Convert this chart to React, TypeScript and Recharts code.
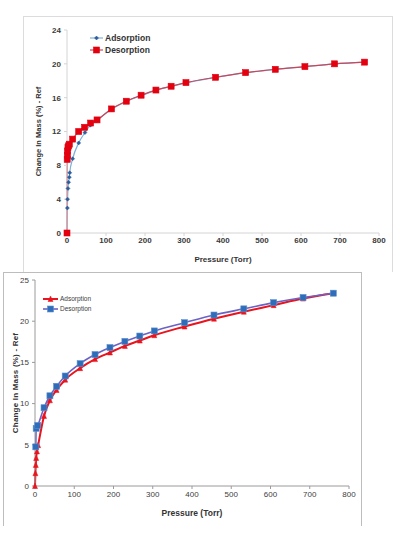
import { LineChart, Line, XAxis, YAxis, Legend } from 'recharts';

// pressure ticks shared by both panels
const xTicks = [0, 100, 200, 300, 400, 500, 600, 700, 800];
const topYTicks = [0, 4, 8, 12, 16, 20, 24];
const bottomYTicks = [0, 5, 10, 15, 20, 25];

// top panel
const topAdsP = [0, 1, 1.5, 2.5, 4, 6, 7, 14.5, 30, 46, 60, 76, 114, 152, 190, 228, 267, 305, 381, 458, 534, 610, 686, 763];
const topAdsM = [0, 2.95, 4.0, 5.27, 6.0, 6.6, 7.12, 8.78, 10.65, 11.87, 12.75, 13.3, 14.62, 15.55, 16.25, 16.87, 17.33, 17.75, 18.4, 18.95, 19.35, 19.67, 20.0, 20.2];
const topDesP = [0, 0.5, 1, 1.5, 2.5, 4, 6, 14.5, 30, 45, 60.5, 77, 114, 152, 190, 228, 267, 305, 381, 458, 534, 610, 686, 763];
const topDesM = [0, 8.7, 9.2, 9.7, 10.1, 10.3, 10.5, 11.1, 12.0, 12.5, 13.0, 13.37, 14.67, 15.58, 16.29, 16.9, 17.35, 17.78, 18.41, 18.96, 19.35, 19.67, 20.0, 20.2];

// bottom panel
const botAdsP = [0, 1, 2, 3, 5, 8, 23, 38, 55, 77, 115, 153, 191, 229, 267, 304, 381, 456, 532, 608, 683, 760];
const botAdsM = [0, 1.55, 2.55, 3.4, 4.2, 4.95, 8.5, 10.4, 11.65, 12.9, 14.3, 15.4, 16.2, 17.0, 17.65, 18.3, 19.35, 20.3, 21.15, 21.95, 22.75, 23.4];
const botDesP = [2, 3, 7, 23, 38, 55, 77, 115, 153, 191, 229, 267, 304, 381, 456, 532, 608, 683, 760];
const botDesM = [4.75, 7.0, 7.35, 9.5, 10.95, 12.1, 13.35, 14.85, 15.95, 16.8, 17.55, 18.2, 18.82, 19.82, 20.75, 21.5, 22.25, 22.88, 23.4];

const zip = (p: number[], m: number[]) => p.map((x, i) => ({ p: x, m: m[i] }));

type Shape = 'square' | 'diamond' | 'triangle';

function marker(shape: Shape, size: number, fill: string, stroke: string, cx: number, cy: number, key?: any) {
  const h = size / 2;
  if (shape === 'square') {
    return <rect key={key} x={cx - h} y={cy - h} width={size} height={size} fill={fill} stroke={stroke} strokeWidth={0.6} />;
  }
  if (shape === 'triangle') {
    return <polygon key={key} points={`${cx},${cy - h - 0.5} ${cx + h},${cy + h} ${cx - h},${cy + h}`} fill={fill} stroke={stroke} strokeWidth={0.5} />;
  }
  return <polygon key={key} points={`${cx},${cy - h} ${cx + h},${cy} ${cx},${cy + h} ${cx - h},${cy}`} fill={fill} stroke={stroke} strokeWidth={0.5} />;
}

const dotFn = (shape: Shape, size: number, fill: string, stroke: string) => (props: any) => {
  const { cx, cy, index } = props;
  if (cx == null || cy == null) return <g key={index} />;
  return marker(shape, size, fill, stroke, cx, cy, index);
};

interface Series {
  name: string;
  data: { p: number; m: number }[];
  line: string;
  lineWidth: number;
  shape: Shape;
  size: number;
  fill: string;
  stroke: string;
}

const topSeries: Series[] = [
  { name: 'Adsorption', data: zip(topAdsP, topAdsM), line: '#7fb0dc', lineWidth: 1.2, shape: 'diamond', size: 4, fill: '#2a5d9a', stroke: '#2a5d9a' },
  { name: 'Desorption', data: zip(topDesP, topDesM), line: '#c8485a', lineWidth: 1.2, shape: 'square', size: 6, fill: '#e3000f', stroke: '#e3000f' },
];

const bottomSeries: Series[] = [
  { name: 'Adsorption', data: zip(botAdsP, botAdsM), line: '#e8141e', lineWidth: 2, shape: 'triangle', size: 5, fill: '#e8141e', stroke: '#e8141e' },
  { name: 'Desorption', data: zip(botDesP, botDesM), line: '#6a62c4', lineWidth: 1.6, shape: 'square', size: 6, fill: '#2f6db8', stroke: '#5b8fd0' },
];

function LegendBox({ series, fontSize, rowH, lineW, bold, color }: { series: Series[]; fontSize: number; rowH: number; lineW: number; bold: boolean; color: string }) {
  return (
    <div>
      {series.map(s => (
        <div key={s.name} style={{ display: 'flex', alignItems: 'center', height: rowH }}>
          <svg width={lineW + 2} height={rowH} style={{ display: 'block' }}>
            <line x1={1} x2={lineW + 1} y1={rowH / 2} y2={rowH / 2} stroke={s.line} strokeWidth={s.lineWidth} />
            {marker(s.shape, s.size, s.fill, s.stroke, lineW / 2 + 1, rowH / 2)}
          </svg>
          <span style={{ fontSize, fontWeight: bold ? 700 : 400, color, marginLeft: 1, lineHeight: 1 }}>{s.name}</span>
        </div>
      ))}
    </div>
  );
}

const font = '"Liberation Sans", Arial, sans-serif';
const narrow = '"Liberation Sans Narrow", "Liberation Sans", Arial, sans-serif';

export default function App() {
  return (
    <div style={{ position: 'absolute', left: 0, top: 0, width: 398, height: 538, background: '#fff', fontFamily: font }}>
      <div style={{ position: 'absolute', left: 23, top: 16, width: 370, height: 256, boxSizing: 'border-box', borderTop: '1px solid #dcdcdc', borderLeft: '1px solid #dcdcdc', borderRight: '1px solid #dcdcdc' }}>
        <LineChart width={368} height={253} margin={{ top: 13, right: 13, bottom: 8, left: 0 }}>
          <XAxis
            dataKey="p"
            type="number"
            domain={[0, 800]}
            ticks={xTicks}
            height={29}
            tickSize={3}
            tickMargin={1}
            stroke="#d4d4d4"
            tick={{ fontSize: 8, fontWeight: 700, fill: '#3a3a3a', fontFamily: font }}
            label={{ value: 'Pressure (Torr)', position: 'insideBottom', offset: 0, style: { fontSize: 8, fontWeight: 700, fill: '#333', fontFamily: font } }}
          />
          <YAxis
            dataKey="m"
            type="number"
            domain={[0, 24]}
            ticks={topYTicks}
            width={43}
            tickSize={3}
            tickMargin={3}
            stroke="#d4d4d4"
            tick={{ fontSize: 8, fontWeight: 700, fill: '#3a3a3a', fontFamily: font }}
            label={{ value: 'Change In Mass (%) - Ref', angle: -90, position: 'insideLeft', offset: 14, style: { textAnchor: 'middle', fontSize: 7.5, fontWeight: 700, fill: '#333', fontFamily: font } }}
          />
          <Legend
            layout="vertical"
            verticalAlign="middle"
            align="center"
            wrapperStyle={{ left: 65, top: 15, width: 'auto' }}
            content={() => <LegendBox series={topSeries} fontSize={8.5} rowH={12} lineW={13} bold color="#333" />}
          />
          {topSeries.map(s => (
            <Line
              key={s.name}
              data={s.data}
              dataKey="m"
              name={s.name}
              type="monotone"
              stroke={s.line}
              strokeWidth={s.lineWidth}
              dot={dotFn(s.shape, s.size, s.fill, s.stroke)}
              activeDot={false}
              isAnimationActive={false}
            />
          ))}
        </LineChart>
      </div>

      <div style={{ position: 'absolute', left: 3, top: 272, width: 359, height: 254, boxSizing: 'border-box', borderTop: '1px solid #bdbdbd', borderLeft: '1px solid #bdbdbd', borderRight: '1px solid #bdbdbd' }}>
        <LineChart width={357} height={252} margin={{ top: 7, right: 12, bottom: 9, left: 0 }}>
          <XAxis
            dataKey="p"
            type="number"
            domain={[0, 800]}
            ticks={xTicks}
            height={30}
            tickSize={3}
            tickMargin={2}
            stroke="#9a9a9a"
            tick={{ fontSize: 8, fill: '#404040', fontFamily: narrow }}
            label={{ value: 'Pressure (Torr)', position: 'insideBottom', offset: 0, style: { fontSize: 8.5, fontWeight: 700, fill: '#333', fontFamily: narrow } }}
          />
          <YAxis
            dataKey="m"
            type="number"
            domain={[0, 25]}
            ticks={bottomYTicks}
            width={31}
            tickSize={3}
            tickMargin={3}
            stroke="#9a9a9a"
            tick={{ fontSize: 8, fill: '#404040', fontFamily: narrow }}
            label={{ value: 'Change In Mass (%)  - Ref', angle: -90, position: 'insideLeft', offset: 11, style: { textAnchor: 'middle', fontSize: 8, fontWeight: 700, letterSpacing: 0.2, fill: '#333', fontFamily: font } }}
          />
          <Legend
            layout="vertical"
            verticalAlign="middle"
            align="center"
            wrapperStyle={{ left: 38, top: 21, width: 'auto' }}
            content={() => <LegendBox series={bottomSeries} fontSize={6.5} rowH={10} lineW={15} bold={false} color="#404040" />}
          />
          {bottomSeries.map(s => (
            <Line
              key={s.name}
              data={s.data}
              dataKey="m"
              name={s.name}
              type="monotone"
              stroke={s.line}
              strokeWidth={s.lineWidth}
              dot={dotFn(s.shape, s.size, s.fill, s.stroke)}
              activeDot={false}
              isAnimationActive={false}
            />
          ))}
        </LineChart>
      </div>
    </div>
  );
}
